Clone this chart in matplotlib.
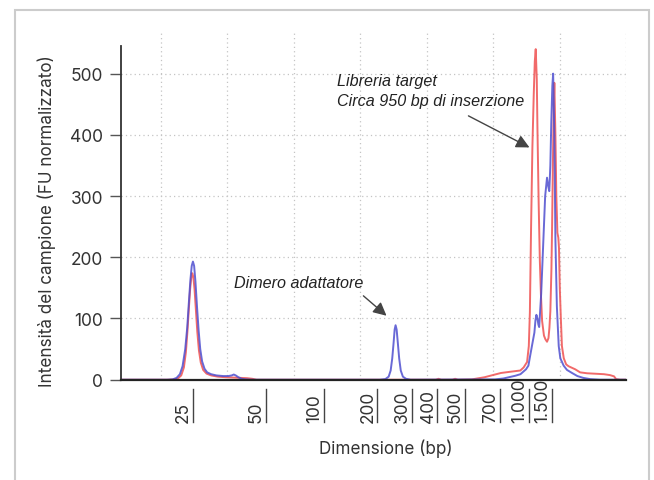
import matplotlib.pyplot as plt
from matplotlib.patches import Rectangle

plt.rcParams['font.family'] = ['Inter', 'DejaVu Sans']

# electropherogram traces (x = migration position, y = FU)
blue_x = [17.0, 20.5, 20.9, 21.2, 21.45, 21.65, 21.85, 22.0, 22.12, 22.24, 22.34, 22.43,
          22.52, 22.62, 22.74, 22.86, 22.98, 23.12, 23.3, 23.5, 23.8, 24.2, 24.7, 25.1,
          25.35, 25.5, 25.65, 25.85, 26.1, 26.4, 26.8,
          36.5, 36.9, 37.15, 37.3, 37.42, 37.52, 37.6, 37.67, 37.75, 37.84, 37.94, 38.06,
          38.22, 38.45, 38.8,
          45.16, 45.78, 46.68, 47.06, 47.48, 47.66, 47.79, 47.95, 48.11, 48.19, 48.26,
          48.34, 48.41, 48.47, 48.62, 48.77, 48.92, 49.06, 49.16, 49.23, 49.31, 49.38,
          49.46, 49.52, 49.61, 49.69, 49.8, 49.94, 50.06, 50.31, 50.56, 50.94, 51.34,
          51.78, 52.3, 53.04, 55.0]
blue_y = [0, 0, 0.5, 3, 9, 22, 50, 85, 125, 163, 186, 193,
          186, 160, 118, 80, 50, 30, 18, 12, 9, 7, 6, 6,
          7, 8.5, 7, 4, 1.5, 0.5, 0,
          0, 1, 5, 15, 35, 60, 82, 89, 82, 60, 35, 15,
          5, 1.5, 0,
          0.5, 2, 6.5, 9, 17, 23, 39, 58, 77, 97, 106,
          100, 90, 86, 140, 220, 300, 330, 315, 308, 350, 420,
          480, 500, 400, 230, 120, 55, 35, 23, 16, 11, 6,
          3, 1, 0, 0]

red_x = [17.0, 20.5, 21.0, 21.3, 21.55, 21.75, 21.9, 22.02, 22.12, 22.22, 22.3, 22.38,
         22.46, 22.55, 22.65, 22.76, 22.88, 23.02, 23.2, 23.45, 23.8, 24.3, 24.9, 25.5,
         26.0, 26.5, 26.9, 27.2,
         40.7, 40.9, 41.1, 41.95, 42.15, 42.35,
         43.4, 44.35, 44.97, 45.6, 46.3, 46.85, 47.05, 47.3, 47.56, 47.69, 47.77, 47.86,
         47.96, 48.06, 48.14, 48.21, 48.29, 48.34, 48.43, 48.52, 48.6, 48.69, 48.83,
         48.94, 49.06, 49.17, 49.24, 49.31, 49.39, 49.44, 49.5, 49.56, 49.61, 49.69,
         49.76, 49.84, 49.91, 49.96, 50.02, 50.1, 50.18, 50.32, 50.5, 50.68, 51.18,
         51.55, 52.08, 52.68, 53.35, 53.8, 54.1, 54.25, 54.55, 55.0]
red_y = [0, 0, 0.5, 2, 7, 20, 45, 80, 115, 148, 166, 174,
         168, 148, 115, 78, 48, 28, 16, 10, 7, 5, 4, 3.5,
         3, 2.5, 1.5, 0,
         0, 1.5, 0, 0, 1.5, 0,
         0.5, 4, 7.5, 11, 13, 14.5, 15, 20, 29, 55, 110, 248,
         380, 465, 520, 540, 490, 410, 290, 194, 140, 96, 72,
         66, 62, 68, 85, 112, 180, 248, 350, 440, 485, 400,
         300, 240, 232, 215, 150, 100, 55, 35, 25, 22, 17,
         12, 10.5, 9.8, 9, 7.5, 5.5, 1, 0, 0]

# size ladder: label and position on the migration axis
ladder_labels = ['25', '50', '100', '200', '300', '400', '500', '700', '1.000', '1.500']
ladder_pos = [22.40, 27.89, 32.26, 36.28, 38.89, 40.82, 42.86, 45.54, 47.73, 49.41]

fig = plt.figure(figsize=(6.54, 4.81), dpi=100)
ax = fig.add_axes([0.1846, 0.2085, 0.7726, 0.7229])

ax.plot(red_x, red_y, color='#f05a5a', lw=1.4, alpha=0.9)
ax.plot(blue_x, blue_y, color='#4f4fcf', lw=1.4, alpha=0.85)

ax.set_xlim(17.0, 55.0)
ax.set_ylim(0, 568)
ax.set_yticks([0, 100, 200, 300, 400, 500])
ax.set_xticks([20, 25, 30, 35, 40, 45, 50, 55])
ax.set_xticklabels([])
ax.tick_params(axis='x', length=0)
ax.tick_params(axis='y', length=8, width=1, color='#555555', pad=4.5,
               labelsize=12.5, labelcolor='#333333')
ax.grid(True, color='#c4c4c4', linestyle=(0, (1, 2.5)), lw=0.9)

for s in ['top', 'right']:
    ax.spines[s].set_visible(False)
ax.spines['left'].set_bounds(0, 545)
ax.spines['left'].set_color('#333333')
ax.spines['bottom'].set_color('#222222')
ax.spines['left'].set_linewidth(1.3)
ax.spines['bottom'].set_linewidth(1.6)

# ladder labels with their marker lines under the axis
tr = ax.get_xaxis_transform()
for lab, pos in zip(ladder_labels, ladder_pos):
    ax.plot([pos, pos], [-0.027, -0.122], transform=tr, color='#444444', lw=1.0,
            clip_on=False)
    ax.text(pos - 0.06, -0.121, lab, transform=tr, rotation=90, ha='right',
            va='bottom', fontsize=12.5, color='#333333')

ax.set_ylabel('Intensità del campione (FU normalizzato)', fontsize=12.3, color='#333333')
ax.yaxis.set_label_coords(-0.128, 0.458)
ax.set_xlabel('Dimensione (bp)', fontsize=12.3, color='#333333')
ax.xaxis.set_label_coords(0.525, -0.17)

ital = dict(family=['Liberation Sans', 'DejaVu Sans'], style='italic', fontsize=11.6,
            color='#222222')
arrow = dict(arrowstyle='-|>', color='#444444', lw=1.0, mutation_scale=20,
             shrinkA=0, shrinkB=0)
ax.text(25.54, 159.5, 'Dimero adattatore', ha='left', va='center', **ital)
ax.annotate('', xy=(36.99, 104.5), xytext=(35.25, 137), arrowprops=arrow)
ax.text(33.23, 488, 'Libreria target', ha='left', va='center', **ital)
ax.text(33.23, 456.6, 'Circa 950 bp di inserzione', ha='left', va='center', **ital)
ax.annotate('', xy=(47.74, 379.4), xytext=(43.15, 431), arrowprops=arrow)

# light frame around the figure, open at the bottom
fig.add_artist(Rectangle((14.5 / 654, -0.1), 634 / 654, 1.1 - 10.7 / 481,
                         transform=fig.transFigure, fill=False, ec='#cccccc',
                         lw=1.5, clip_on=False))

fig.savefig('out.png', dpi=100)
